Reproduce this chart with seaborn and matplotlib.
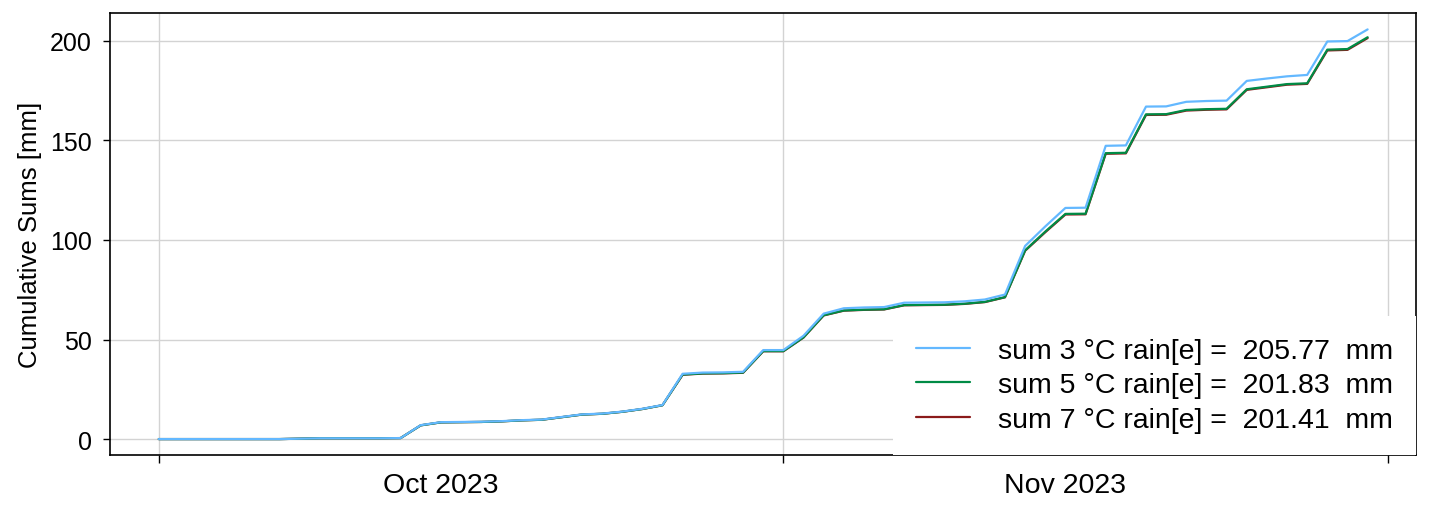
import numpy as np
import pandas as pd
import seaborn as sns
import matplotlib
import matplotlib.pyplot as plt
import matplotlib.dates as mdates

matplotlib.use("agg")

# daily cumulative rain sums, 1 Oct - 30 Nov 2023
start_date = "2023-10-01"
n_days = 61

sum_3c = [0, 0, 0, 0, 0, 0, 0, 0.2, 0.4, 0.4, 0.4, 0.4, 0.5,
          7.0, 8.5, 8.6, 8.7, 9.0, 9.5, 9.8, 11.1, 12.4, 12.8, 13.8, 15.2, 17.1,
          32.8, 33.4, 33.5, 33.8, 44.7, 44.7,
          51.9, 63.0, 65.7, 66.1, 66.3, 68.5, 68.6, 68.7, 69.2, 70.1, 72.6,
          97.0, 106.8, 116.1, 116.2, 147.3, 147.5, 167.0, 167.1, 169.4, 169.8,
          170.0, 179.9, 181.1, 182.2, 182.9, 199.7, 199.9, 205.77]
sum_5c = [0, 0, 0, 0, 0, 0, 0, 0.2, 0.4, 0.4, 0.4, 0.4, 0.5,
          6.9, 8.4, 8.5, 8.6, 8.9, 9.4, 9.7, 11.0, 12.3, 12.7, 13.7, 15.1, 17.0,
          32.4, 33.0, 33.1, 33.4, 44.2, 44.2,
          51.1, 62.2, 64.6, 65.0, 65.2, 67.3, 67.4, 67.5, 68.0, 68.9, 71.3,
          94.8, 104.2, 113.1, 113.2, 143.6, 143.8, 163.1, 163.2, 165.3, 165.7,
          165.9, 175.7, 177.0, 178.3, 178.7, 195.6, 195.9, 201.83]
sum_7c = [0, 0, 0, 0, 0, 0, 0, 0.2, 0.4, 0.4, 0.4, 0.4, 0.5,
          6.9, 8.4, 8.5, 8.6, 8.9, 9.4, 9.7, 11.0, 12.3, 12.7, 13.7, 15.1, 17.0,
          32.3, 32.9, 33.0, 33.3, 44.1, 44.1,
          51.0, 62.1, 64.5, 64.9, 65.1, 67.2, 67.3, 67.4, 67.9, 68.8, 71.2,
          94.6, 103.9, 112.8, 112.9, 143.3, 143.5, 162.8, 162.9, 165.0, 165.4,
          165.6, 175.4, 176.7, 178.0, 178.4, 195.2, 195.5, 201.41]

thresholds = ["3", "5", "7"]
totals = [205.77, 201.83, 201.41]
colors = ["#63B8FF", "#008B45", "#8B1A1A"]

dates = pd.date_range(start_date, periods=n_days, freq="D")
df = pd.DataFrame({"date": dates, "t3": sum_3c, "t5": sum_5c, "t7": sum_7c})

sns.set_theme(style="whitegrid")
plt.rcParams["font.family"] = ["Liberation Sans", "DejaVu Sans"]
plt.rcParams["axes.edgecolor"] = "black"
plt.rcParams["grid.color"] = "#d3d3d3"
plt.rcParams["text.color"] = "black"
plt.rcParams["axes.labelcolor"] = "black"
plt.rcParams["xtick.color"] = "black"
plt.rcParams["ytick.color"] = "black"

fig = plt.figure(figsize=(14.31, 5.06), dpi=100)
ax = fig.add_axes([0.0769, 0.0988, 0.9126, 0.8735])

# draw 7, 5 then 3 so the light blue line ends on top
for col, thr, tot, c in reversed(list(zip(["t3", "t5", "t7"], thresholds, totals, colors))):
    lab = "sum {} \u00b0C rain[e] =  {:.2f}  mm".format(thr, tot)
    sns.lineplot(data=df, x="date", y=col, ax=ax, color=c, lw=1.6, label=lab)

h, l = ax.get_legend_handles_labels()
leg = ax.legend(h[::-1], l[::-1], loc="lower right", fontsize=20.5,
                borderaxespad=0, borderpad=0.79, handlelength=1.9,
                handletextpad=1.0, labelspacing=0.29, frameon=True,
                fancybox=False, framealpha=1)
leg.get_frame().set_edgecolor("none")
leg.get_frame().set_facecolor("white")

x0 = pd.Timestamp(start_date)
ax.set_xlim(x0 - pd.Timedelta(days=2.42), x0 + pd.Timedelta(days=62.4))
ax.set_ylim(-8.0, 214.0)
ax.set_yticks([0, 50, 100, 150, 200])

ax.xaxis.set_major_locator(mdates.MonthLocator())
ax.xaxis.set_major_formatter(plt.NullFormatter())
ax.xaxis.set_minor_locator(mdates.MonthLocator(bymonthday=15))
ax.xaxis.set_minor_formatter(mdates.DateFormatter("%b %Y"))
ax.tick_params(axis="x", which="major", length=6, width=1, color="black",
               direction="out", bottom=True)
ax.tick_params(axis="x", which="minor", length=0, pad=12, labelsize=20.5)
ax.tick_params(axis="y", length=5, width=1, color="black", direction="out",
               left=True, pad=8, labelsize=18)
ax.grid(True, which="major", lw=1)
ax.grid(False, which="minor")

ax.set_xlabel("")
ax.set_ylabel("Cumulative Sums [mm]", fontsize=18.5, labelpad=6)
for s in ax.spines.values():
    s.set_linewidth(1.2)
    s.set_color("black")

fig.savefig("out.png", dpi=100)
